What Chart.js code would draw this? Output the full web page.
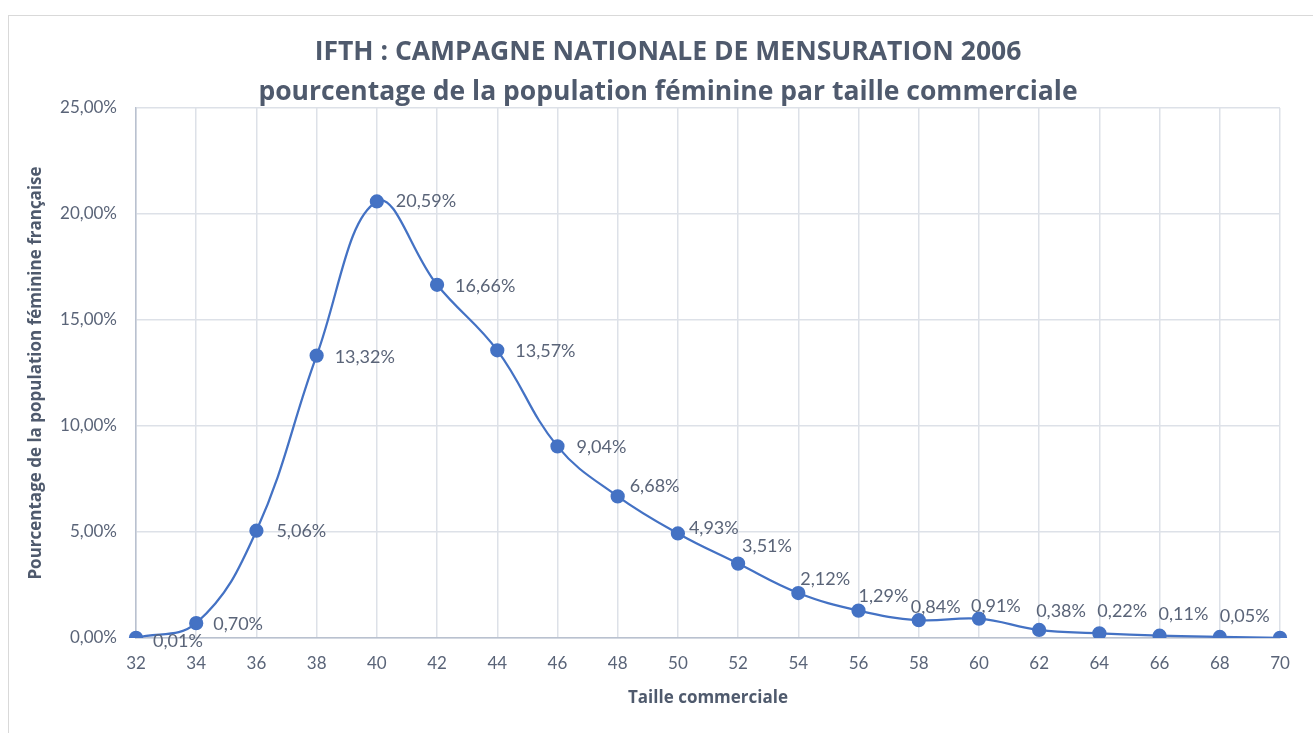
<!DOCTYPE html>
<html lang="fr">
<head>
    <meta charset="UTF-8">
    <title>IFTH - Campagne nationale de mensuration 2006</title>
    <script src="https://cdn.jsdelivr.net/npm/chart.js"></script>
    <style>
        html, body { margin: 0; padding: 0; background: #ffffff; overflow: hidden; }
        #cadre {
            position: absolute; left: 8px; top: 15px; width: 1400px; height: 800px;
            border: 1px solid #d9d9d9; box-sizing: border-box;
        }
        #wrap { position: absolute; left: 0; top: 0; width: 1313px; height: 733px; }
    </style>
</head>
<body>
    <div id="cadre"></div>
    <div id="wrap"><canvas id="tailleChart" width="1313" height="733"></canvas></div>

    <script>
        // Tailles commerciales (axe X)
        const tailles = ['32', '34', '36', '38', '40', '42', '44', '46', '48', '50',
                         '52', '54', '56', '58', '60', '62', '64', '66', '68', '70'];

        // Pourcentage de la population féminine par taille
        const pourcentages = [0.01, 0.70, 5.06, 13.32, 20.59, 16.66, 13.57, 9.04, 6.68, 4.93,
                              3.51, 2.12, 1.29, 0.84, 0.91, 0.38, 0.22, 0.11, 0.05, 0.01];

        // Etiquettes affichées (pas d'étiquette pour 70)
        const etiquettes = ['0,01%', '0,70%', '5,06%', '13,32%', '20,59%', '16,66%', '13,57%', '9,04%', '6,68%', '4,93%',
                            '3,51%', '2,12%', '1,29%', '0,84%', '0,91%', '0,38%', '0,22%', '0,11%', '0,05%', null];

        // Axe Y
        const yMin = 0;
        const yMax = 25;
        const yStep = 5;

        const titre = ['IFTH : CAMPAGNE NATIONALE DE MENSURATION 2006',
                       'pourcentage de la population féminine par taille commerciale'];

        const police = 'Lato, "Noto Sans", sans-serif';
        const policeTitre = '"Open Sans", Lato, sans-serif';
        const couleurTexte = '#5a6478';
        const couleurTitre = '#4f5a6d';
        const bleu = '#4472c4';

        // décalage des étiquettes par rapport au point (gauche du texte, milieu vertical)
        const decalages = [[17, 3], [17, 1], [20, 0], [18, 2], [19, 0], [18, 1], [18, 1], [19, 1], [12, -10], [11, -5],
                           [4, -17], [2, -14], [0, -14], [-8, -13], [-8, -13], [-3, -19], [-2, -22], [-1, -21], [0, -21], [0, 0]];

        const pluginEtiquettes = {
            id: 'etiquettes',
            afterDatasetsDraw(chart) {
                const ctx = chart.ctx;
                const meta = chart.getDatasetMeta(0);
                ctx.save();
                ctx.font = '18px ' + police;
                ctx.fillStyle = couleurTexte;
                ctx.textAlign = 'left';
                ctx.textBaseline = 'middle';
                meta.data.forEach((pt, i) => {
                    if (!etiquettes[i]) return;
                    ctx.fillText(etiquettes[i], pt.x + decalages[i][0], pt.y + decalages[i][1]);
                });
                ctx.restore();
            }
        };

        const pluginTitre = {
            id: 'titreDeuxLignes',
            afterDraw(chart) {
                const ctx = chart.ctx;
                ctx.save();
                ctx.font = 'bold 26.5px ' + policeTitre;
                ctx.fillStyle = couleurTitre;
                ctx.textAlign = 'center';
                ctx.textBaseline = 'middle';
                ctx.fillText(titre[0], 668, 52);
                ctx.fillText(titre[1], 668, 92);
                ctx.restore();
            }
        };

        new Chart(document.getElementById('tailleChart'), {
            type: 'line',
            data: {
                labels: tailles,
                datasets: [{
                    label: 'Pourcentage',
                    data: pourcentages,
                    borderColor: bleu,
                    backgroundColor: bleu,
                    borderWidth: 2.25,
                    pointRadius: 6,
                    pointBackgroundColor: bleu,
                    pointBorderColor: bleu,
                    tension: 0.4,
                    fill: false
                }]
            },
            options: {
                responsive: false,
                animation: false,
                layout: { padding: { left: 10, right: 33, top: 108, bottom: 0 } },
                plugins: {
                    legend: { display: false },
                    title: { display: false },
                    tooltip: { enabled: false }
                },
                scales: {
                    x: {
                        offset: false,
                        grid: { color: '#dde1e8', lineWidth: 1.5, drawTicks: false },
                        border: { color: '#b9c1cf', width: 1.5 },
                        ticks: { color: couleurTexte, font: { family: police, size: 17 }, padding: 15, maxRotation: 0, autoSkip: false },
                        title: {
                            display: true,
                            text: 'Taille commerciale',
                            color: couleurTitre,
                            font: { family: policeTitre, size: 17, weight: 'bold' },
                            padding: { top: 0, bottom: 25 }
                        },
                        afterFit(scale) { scale.height = 95; }
                    },
                    y: {
                        min: yMin,
                        max: yMax,
                        grid: { color: '#dde1e8', lineWidth: 1.5, drawTicks: false },
                        border: { color: '#b9c1cf', width: 1.5 },
                        ticks: {
                            stepSize: yStep,
                            color: couleurTexte,
                            font: { family: police, size: 17 },
                            padding: 19,
                            callback: v => v.toFixed(2).replace('.', ',') + '%'
                        },
                        title: {
                            display: true,
                            text: 'Pourcentage de la population féminine française',
                            color: couleurTitre,
                            font: { family: policeTitre, size: 17, weight: 'bold' },
                            padding: { top: 16, bottom: 0 }
                        },
                        afterFit(scale) { scale.width = 126; }
                    }
                }
            },
            plugins: [pluginEtiquettes, pluginTitre]
        });
    </script>
</body>
</html>
